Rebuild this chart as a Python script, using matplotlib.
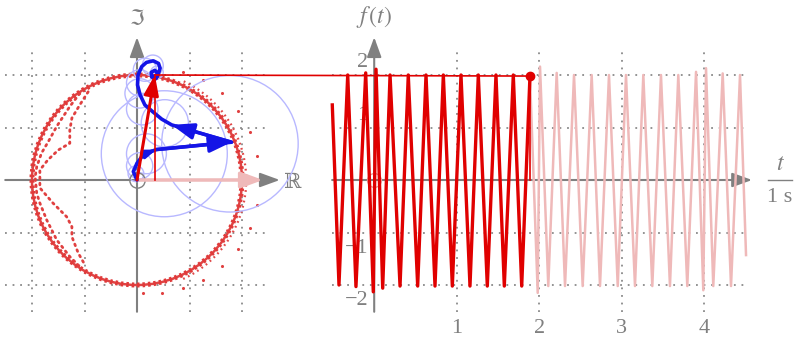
import matplotlib.pyplot as plt
from matplotlib.patches import Circle, Arc, ConnectionPatch

# complex plane (left) -- blue epicycle chain, joints in data units
blue_x = [0.00, -0.07, 0.00, 0.09, 0.21, 0.37, 1.80, 0.66, 0.47, 0.30, 0.15, 0.06, 0.01, 0.02,
          0.09, 0.18, 0.31, 0.41, 0.44, 0.41, 0.36, 0.28, 0.27, 0.34, 0.40, 0.37, 0.34]
blue_y = [0.00, 0.16, 0.32, 0.44, 0.52, 0.58, 0.72, 1.05, 1.16, 1.30, 1.43, 1.62, 1.81, 2.00,
          2.16, 2.24, 2.27, 2.22, 2.13, 2.03, 1.93, 1.96, 2.05, 2.09, 2.02, 1.96, 1.99]
arrow_idx = [5, 6, 7]

# epicycle circles: centre x, centre y, radius
circ_x = [0.52, 1.77, 0.53, 0.18, 0.05, -0.02, 0.10, 0.05, 0.05, 0.15, 0.30, 0.38]
circ_y = [0.50, 0.69, 1.08, 0.50, 0.27, 0.12, 1.35, 1.65, 1.85, 2.10, 2.18, 2.05]
circ_r = [1.20, 1.30, 0.45, 0.38, 0.25, 0.15, 0.30, 0.28, 0.25, 0.22, 0.20, 0.12]

tip = (0.34, 2.00)
ring_r = 2.0

# inner dotted traces of the sampled points
tr1_x = [-0.93, -1.09, -1.24, -1.28, -1.28, -1.50, -1.70, -1.85, -1.85, -1.60, -1.34, -1.24, -1.24, -1.12, -0.99]
tr1_y = [1.68, 1.43, 1.18, 0.95, 0.70, 0.57, 0.38, 0.19, -0.15, -0.44, -0.70, -0.89, -1.08, -1.39, -1.62]
tr2_x = [-1.09, -1.28, -1.53, -1.69, -1.82, -1.91, -1.94, -1.91, -1.85, -1.72, -1.53, -1.28, -1.09]
tr2_y = [1.65, 1.40, 1.02, 0.73, 0.51, 0.25, 0.06, -0.25, -0.44, -0.76, -1.14, -1.46, -1.65]
out_x = [0.88, 1.26, 1.62, 1.92, 2.15, 2.29, 2.29, 2.15, 1.92, 1.62, 1.26, 0.88, 0.48, 0.11]
out_y = [2.06, 1.90, 1.66, 1.31, 0.91, 0.46, -0.48, -0.91, -1.31, -1.64, -1.90, -2.06, -2.15, -2.15]

# signal (right) -- extrema of f(t)
sig_t = [-0.508, -0.427, -0.321, -0.221, -0.103, -0.011, 0.022, 0.103, 0.192, 0.313, 0.413, 0.527, 0.628,
         0.737, 0.838, 0.947, 1.052, 1.161, 1.262, 1.371, 1.476, 1.577, 1.686, 1.788, 1.888]
sig_f = [1.43, -2.00, 2.00, -2.03, 2.04, -2.13, 2.11, -2.06, 2.00, -2.02, 2.00, -2.02, 2.00,
         -2.02, 2.00, -2.02, 2.00, -2.02, 2.00, -2.02, 2.00, -2.02, 2.00, -2.02, 1.98]
fade_t = [1.888, 1.982, 2.010, 2.110, 2.212, 2.313, 2.422, 2.527, 2.636, 2.737, 2.846, 2.952, 3.052, 3.161,
          3.262, 3.371, 3.476, 3.585, 3.686, 3.795, 3.901, 3.989, 4.022, 4.110, 4.224, 4.325, 4.434, 4.507]
fade_f = [1.98, -2.15, 2.16, -2.02, 2.04, -2.02, 2.00, -2.02, 2.00, -2.02, 2.00, -2.02, 2.00, -2.02,
          2.00, -2.02, 2.00, -2.02, 2.00, -2.02, 2.06, -2.10, 2.13, -2.02, 2.03, -2.02, 2.00, -1.43]
now_t, now_f = 1.888, 1.98

grid_vals = [-2, -1, 1, 2]
t_ticks = [1, 2, 3, 4]
f_ticks = [2, 1, -1, -2]
f_tick_labels = ['2', '1', '\u22121', '\u22122']

GRAY = '#808080'
RED = '#e00000'
FADE = '#efb9b9'
BLUE = '#1414e6'
LBLUE = '#b8b8ff'
SERIF = ['Liberation Serif', 'DejaVu Serif']

fig = plt.figure(figsize=(8, 3.42), dpi=100)
ax1 = fig.add_axes([0, 0, 0.375, 1])
ax2 = fig.add_axes([0.375, 0, 0.625, 1])
for ax in (ax1, ax2):
    ax.axis('off')
# 52.5 px per unit vertically in both panels, 82.5 px per second in the right one
ax1.set_xlim(-137 / 52.5, 163 / 52.5)
ax1.set_ylim(-162 / 52.5, 180 / 52.5)
ax2.set_xlim(-74.2 / 82.5, 425.8 / 82.5)
ax2.set_ylim(-162 / 52.5, 180 / 52.5)

dot = dict(color='#8a8a8a', lw=1.3, ls=(0, (1, 3.2)), zorder=1)

# ---- left panel
for v in grid_vals:
    ax1.plot([-2.51, 2.53], [v, v], **dot)
    ax1.plot([v, v], [-2.51, 2.53], **dot)

axis_arrow = dict(arrowstyle='-|>,head_length=0.55,head_width=0.2', color=GRAY, lw=1.5,
                  mutation_scale=22, shrinkA=0, shrinkB=0)
ax1.annotate('', xy=(2.72, 0), xytext=(-2.51, 0), arrowprops=axis_arrow, zorder=2)
ax1.annotate('', xy=(0, 2.72), xytext=(0, -2.51), arrowprops=axis_arrow, zorder=2)
ax1.text(2.97, -0.04, '\u211d', color=GRAY, fontsize=15, ha='center', va='center',
         family=['DejaVu Serif', 'DejaVu Sans'])
ax1.text(0, 3.05, '\u2111', color=GRAY, fontsize=15, ha='center', va='center',
         family=['DejaVu Serif', 'DejaVu Sans'])

# sampled points e^{iwt} f(t): dense ring plus the stray traces
ax1.add_patch(Circle((0, 0), ring_r, fill=False, ec='#e04444', lw=1.8, zorder=3))
ax1.add_patch(Circle((0, 0), ring_r, fill=False, ec='#e03a3a', lw=3.6, ls=(0, (0.5, 0.6)), zorder=3))
ax1.add_patch(Arc((0, 0), 2 * 2.08, 2 * 2.08, theta1=-65, theta2=65, ec='#e04848', lw=1.6,
                  ls=(0, (0.8, 1.6)), zorder=3))
ax1.plot(tr1_x, tr1_y, color='#e04040', lw=2, ls=(0, (0.6, 1.6)), dash_capstyle='round', zorder=3)
ax1.plot(tr2_x, tr2_y, color='#e04040', lw=2, ls=(0, (0.6, 1.6)), dash_capstyle='round', zorder=3)
ax1.scatter(out_x, out_y, s=5, color='#e04040', zorder=3, linewidths=0)

for cx, cy, r in zip(circ_x, circ_y, circ_r):
    ax1.add_patch(Circle((cx, cy), r, fill=False, ec=LBLUE, lw=1, zorder=4))

ax1.plot([0], [0], 'o', ms=11, mfc='none', mec=GRAY, mew=1, zorder=4)
ax1.annotate('', xy=(2.4, 0), xytext=(0, 0), zorder=5,
             arrowprops=dict(arrowstyle='-|>,head_length=0.6,head_width=0.22', color=FADE, lw=2.5,
                             mutation_scale=22, shrinkA=0, shrinkB=0))

ax1.plot(blue_x, blue_y, color=BLUE, lw=2.6, solid_capstyle='round', solid_joinstyle='round', zorder=6)
for i in arrow_idx:
    big = abs(blue_x[i] - blue_x[i - 1]) > 0.5
    ax1.annotate('', xy=(blue_x[i], blue_y[i]), xytext=(blue_x[i - 1], blue_y[i - 1]), zorder=6,
                 arrowprops=dict(arrowstyle='-|>,head_length=0.6,head_width=0.22', color=BLUE, lw=2.4,
                                 mutation_scale=22 if big else 11, shrinkA=0, shrinkB=0))

ax1.plot([tip[0], tip[0]], [0, tip[1]], color=RED, lw=1.2, zorder=7)
ax1.annotate('', xy=tip, xytext=(0, 0), zorder=7,
             arrowprops=dict(arrowstyle='-|>,head_length=0.6,head_width=0.22', color=RED, lw=2.2,
                             mutation_scale=20, shrinkA=0, shrinkB=0))

# ---- right panel
for v in grid_vals:
    ax2.plot([-0.51, 4.53], [v, v], **dot)
for t in t_ticks:
    ax2.plot([t, t], [-2.51, 2.53], **dot)

ax2.annotate('', xy=(4.58, 0), xytext=(-0.51, 0), arrowprops=axis_arrow, zorder=2)
ax2.annotate('', xy=(0, 2.72), xytext=(0, -2.51), arrowprops=axis_arrow, zorder=2)

for t in t_ticks:
    ax2.text(t, -2.82, str(t), color=GRAY, fontsize=16, ha='center', va='center', family=SERIF)
for v, lab in zip(f_ticks, f_tick_labels):
    ax2.text(-0.07, v + (0.23 if v > 0 else -0.3), lab, color=GRAY, fontsize=16, ha='right',
             va='center', family=SERIF)
ax2.text(0, 3.1, r'$f\,(t)$', color=GRAY, fontsize=17, ha='center', va='center',
         math_fontfamily='stix')
ax2.text(4.92, 0.33, r'$t$', color=GRAY, fontsize=17, ha='center', va='center', math_fontfamily='stix')
ax2.text(4.92, -0.34, '1 s', color=GRAY, fontsize=16, ha='center', va='center', family=SERIF)
ax2.plot([4.77, 5.07], [0, 0], color=GRAY, lw=1)

ax2.plot(fade_t, fade_f, color=FADE, lw=1.8, solid_joinstyle='round', zorder=3)
ax2.plot(sig_t, sig_f, color=RED, lw=2.4, solid_joinstyle='round', zorder=4)
ax2.plot([0], [0], 'o', ms=10, mfc='none', mec='#e8a0a0', mew=1, zorder=2)
ax2.plot([now_t, now_t], [0, now_f], color=RED, lw=1.2, zorder=4)
ax2.plot([now_t], [now_f], 'o', color=RED, ms=6, zorder=5)

con = ConnectionPatch(xyA=tip, coordsA=ax1.transData, xyB=(now_t, now_f), coordsB=ax2.transData,
                      color=RED, lw=1.2, zorder=8)
fig.add_artist(con)

fig.savefig('out.png', dpi=100, facecolor='white')
